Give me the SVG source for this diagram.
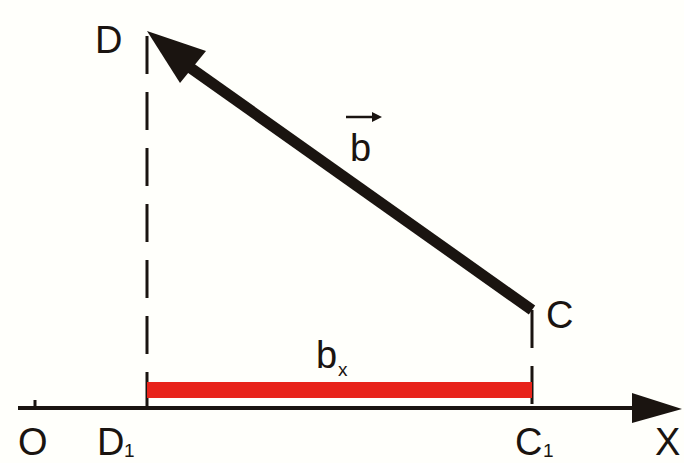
<svg xmlns="http://www.w3.org/2000/svg" width="684" height="463" viewBox="0 0 684 463">
<style>
.lbl{font-family:"Liberation Sans",Arial,sans-serif;font-size:38px;fill:#1a1410}
.sub{font-family:"Liberation Sans",Arial,sans-serif;font-size:19px;fill:#1a1410}
.dash{stroke:#1a1410;stroke-width:3;stroke-dasharray:38 18;fill:none}
</style>
<rect width="684" height="463" fill="#fffffb"/>
<g id="connectors">
<path class="dash" d="M147,36 V408"/>
<path class="dash" d="M532,310 V408"/>
<path d="M18,408 H640" stroke="#1a1410" stroke-width="4"/>
<path d="M632,393 L682,409 L632,423 Z" fill="#1a1410"/>
<path d="M35,408 V400" stroke="#1a1410" stroke-width="3"/>
<path d="M532,310 L185,64" stroke="#1a1410" stroke-width="11" stroke-linecap="butt"/>
<path d="M147,31 L206,51 L180,83 Z" fill="#1a1410"/>
<rect x="147" y="382" width="385" height="16" fill="#e8231a"/>
</g>
<g id="node-D"><text class="lbl" x="95" y="53">D</text></g>
<g id="node-C"><text class="lbl" x="546" y="328">C</text></g>
<g id="label-b">
<text class="lbl" x="350" y="161">b</text>
<path d="M346,117 H374" stroke="#1a1410" stroke-width="2.5"/>
<path d="M372,112 L382,117 L372,122 Z" fill="#1a1410"/>
</g>
<g id="label-bx"><text class="lbl" x="316" y="368">b</text><text class="sub" x="338" y="376">x</text></g>
<g id="node-O"><text class="lbl" x="18" y="455">O</text></g>
<g id="node-D1"><text class="lbl" x="97" y="455">D</text><text class="sub" x="124" y="457">1</text></g>
<g id="node-C1"><text class="lbl" x="515" y="455">C</text><text class="sub" x="543" y="457">1</text></g>
<g id="node-X"><text class="lbl" x="655" y="455">X</text></g>
</svg>
